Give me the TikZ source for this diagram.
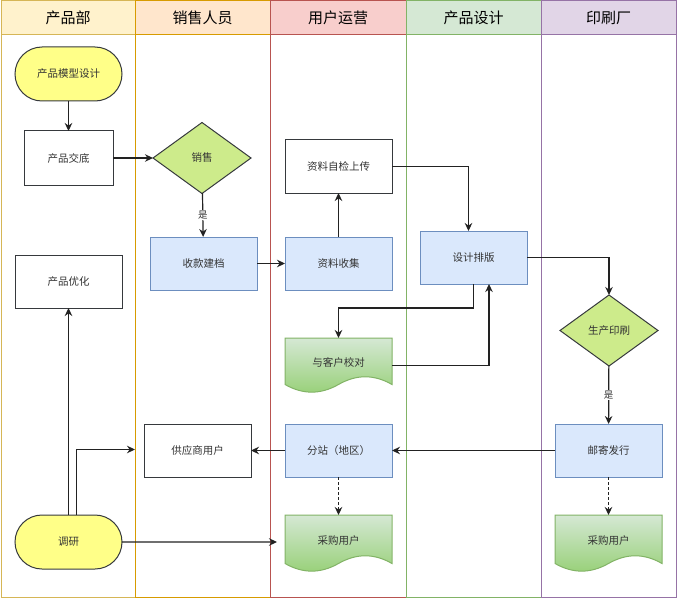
\documentclass[tikz,border=0pt]{standalone}
\usepackage{fontspec}
\setmainfont{Noto Sans CJK SC}
\usetikzlibrary{shapes.geometric,shapes.misc,arrows.meta,calc}
\definecolor{hAf}{HTML}{FFF2CC}\definecolor{hAd}{HTML}{D6B656}
\definecolor{hBf}{HTML}{FFE6CC}\definecolor{hBd}{HTML}{D79B00}
\definecolor{hCf}{HTML}{F8CECC}\definecolor{hCd}{HTML}{B85450}
\definecolor{hDf}{HTML}{D5E8D4}\definecolor{hDd}{HTML}{82B366}
\definecolor{hEf}{HTML}{E1D5E7}\definecolor{hEd}{HTML}{9673A6}
\definecolor{termfill}{HTML}{FFFF88}
\definecolor{shapeline}{HTML}{36393D}
\definecolor{decfill}{HTML}{CDEB8B}
\definecolor{bluefill}{HTML}{DAE8FC}\definecolor{blueline}{HTML}{6C8EBF}
\definecolor{doctop}{HTML}{D5E8D4}\definecolor{docbot}{HTML}{97D077}\definecolor{docline}{HTML}{82B366}
\definecolor{txt}{HTML}{333333}
\definecolor{conn}{HTML}{222222}
\pgfdeclarelayer{lanes}\pgfdeclarelayer{bg}
\pgfsetlayers{lanes,bg,main}
\newcommand\docpath[1]{%
  \path[top color=doctop,bottom color=docbot,draw=docline,line width=1pt]
    (#1.north west) -- (#1.north east) -- ([yshift=8.5pt]#1.south east)
    .. controls ([xshift=-17.83pt,yshift=18.77pt]#1.south east) and ([xshift=-35.67pt,yshift=18.77pt]#1.south east) ..
    ([xshift=-53.5pt,yshift=8.5pt]#1.south east)
    .. controls ([xshift=-71.33pt,yshift=-1.7pt]#1.south east) and ([xshift=17.83pt,yshift=-1.7pt]#1.south west) ..
    ([yshift=8.5pt]#1.south west) -- cycle;}
\begin{document}
\begin{tikzpicture}[x=1pt,y=-1pt,
  headtext/.style={font=\fontsize{15}{17}\selectfont, text=black},
  base/.style={font=\fontsize{10.5}{12}\selectfont, text=txt, line width=1pt, inner sep=0pt, outer sep=0pt},
  term/.style={base, rounded rectangle, draw=shapeline, fill=termfill, minimum width=107pt, minimum height=54pt},
  plainbox/.style={base, rectangle, draw=shapeline, fill=white, minimum width=89pt, minimum height=54pt},
  widebox/.style={plainbox, minimum width=107pt},
  bluebox/.style={base, rectangle, draw=blueline, fill=bluefill, minimum width=107pt, minimum height=53pt},
  dec/.style={base, diamond, draw=shapeline, fill=decfill, minimum width=98pt, minimum height=71pt},
  docbox/.style={base, rectangle, minimum width=107pt, minimum height=57pt},
  arr/.style={draw=conn, line width=1.2pt, -{Stealth[length=8pt,width=7.5pt]}},
  dsh/.style={dash pattern=on 3pt off 2pt},
  lbl/.style={font=\fontsize{9.5}{11}\selectfont, text=txt, fill=white, inner sep=1pt}
]
\useasboundingbox (0,0) rectangle (677,599);
\begin{pgfonlayer}{lanes}
\foreach \xa/\xb/\fc/\dc/\t/\n in {1/135/hAf/hAd/产品部/lA, 135/270/hBf/hBd/销售人员/lB, 270/406/hCf/hCd/用户运营/lC, 406/541/hDf/hDd/产品设计/lD, 541/676/hEf/hEd/印刷厂/lE}{
  \draw[draw=\dc, line width=1pt] (\xa,1) rectangle (\xb,597);
  \draw[draw=\dc, fill=\fc, line width=1pt] (\xa,1) rectangle (\xb,35);
  \node[headtext] (\n) at ({(\xa+\xb)/2},18) {\t};
}
\end{pgfonlayer}

\node[term] (mx) at (68.5,74) {产品模型设计};
\node[plainbox] (pjd) at (68.5,158) {产品交底};
\node[dec] (xs) at (202,158) {销售};
\node[bluebox] (sk) at (203.5,263.5) {收款建档};
\node[bluebox] (zl) at (338.5,263.5) {资料收集};
\node[widebox, minimum height=53pt] (zj) at (338.5,166.5) {资料自检上传};
\node[bluebox] (sj) at (473.5,257.5) {设计排版};
\node[docbox, minimum height=55pt] (jd) at (338.5,365.5) {\raisebox{6pt}{与客户校对}};
\node[dec] (yz) at (609,330.5) {生产印刷};
\node[bluebox] (yj) at (608.5,450.5) {邮寄发行};
\node[docbox] (cgB) at (608.5,543.5) {\raisebox{7pt}{采购用户}};
\node[widebox, minimum height=53pt] (yh) at (68.5,281.5) {产品优化};
\node[widebox, minimum height=53pt] (gy) at (197.5,450.5) {供应商用户};
\node[bluebox] (fz) at (338.5,450.5) {分站（地区）};
\node[docbox] (cgA) at (338.5,543.5) {\raisebox{7pt}{采购用户}};
\node[term] (dy) at (68.5,542) {调研};

\begin{pgfonlayer}{bg}
\docpath{jd}
\docpath{cgA}
\docpath{cgB}
\end{pgfonlayer}

\coordinate (eA) at (135,449.5);
\coordinate (eB) at (277,542);

\draw[arr] (mx) -- (pjd);
\draw[arr] (pjd) -- (xs);
\draw[arr] (xs) -- node[lbl]{是} (sk);
\draw[arr] (sk) -- (zl);
\draw[arr] (zl) -- (zj);
\draw[arr] (zj.east) -| ([xshift=-5pt]sj.north);
\draw[arr] (sj.south) -- ++(0,24) -| (jd.north);
\draw[arr] (jd.east) -| ([xshift=15.5pt]sj.south);
\draw[arr] (sj.east) -| (yz.north);
\draw[arr] (yz) -- node[lbl]{是} (yj);
\draw[arr] (yj) -- (fz);
\draw[arr] (fz) -- (gy);
\draw[arr,dsh] (fz) -- (cgA);
\draw[arr,dsh] (yj) -- (cgB);
\draw[arr] (dy) -- (yh);
\draw[arr] ([xshift=8pt]dy.north) |- (eA);
\draw[arr] (dy) -- (eB);
\end{tikzpicture}
\end{document}
